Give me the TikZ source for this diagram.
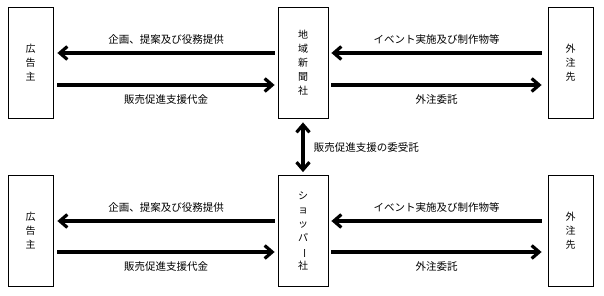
\documentclass[tikz,border=0pt]{standalone}
\usepackage{fontspec}
\usepackage{graphicx}
\setmainfont{Noto Sans CJK JP}
\usetikzlibrary{arrows.meta}

\begin{document}
\begin{tikzpicture}[x=1pt, y=-1pt,
  >={Straight Barb[length=7.5pt, width=13pt]},
  party/.style={draw, line width=0.8pt, minimum height=111pt, align=center, inner sep=0pt, font=\fontsize{10}{14}\selectfont},
  side/.style={party, minimum width=45pt},
  hub/.style={party, minimum width=50pt},
  flow/.style={->, line width=3.2pt, draw=black},
  lbl/.style={font=\fontsize{10.5}{12}\selectfont}
]
\useasboundingbox (0,0) rectangle (604,296);
% upper row
\node[side] (ad1) at (30.5,62.5) {広\\告\\主};
\node[hub] (np) at (303,62.5) {地\\域\\新\\聞\\社};
\node[side] (out1) at (570.5,62.5) {外\\注\\先};
% lower row
\node[side] (ad2) at (30.5,231) {広\\告\\主};
\node[hub] (sp) at (303,231) {シ\\ョ\\ッ\\パ\\\rotatebox[origin=c]{-90}{ー}\\社};
\node[side] (out2) at (570.5,231) {外\\注\\先};

\draw[flow] ([xshift=-3pt, yshift=9.5pt]np.west) -- node[lbl, above=4pt] {企画、提案及び役務提供} ([xshift=4pt, yshift=9.5pt]ad1.east);
\draw[flow] ([xshift=4pt, yshift=-22.5pt]ad1.east) -- node[lbl, below=5pt] {販売促進支援代金} ([xshift=-3pt, yshift=-22.5pt]np.west);
\draw[flow] ([xshift=-6pt, yshift=9.5pt]out1.west) -- node[lbl, above=4pt] {イベント実施及び制作物等} ([xshift=3pt, yshift=9.5pt]np.east);
\draw[flow] ([xshift=3pt, yshift=-22.5pt]np.east) -- node[lbl, below=5pt] {外注委託} ([xshift=-6pt, yshift=-22.5pt]out1.west);

\draw[flow] ([xshift=-3pt, yshift=10pt]sp.west) -- node[lbl, above=4pt] {企画、提案及び役務提供} ([xshift=4pt, yshift=10pt]ad2.east);
\draw[flow] ([xshift=4pt, yshift=-21pt]ad2.east) -- node[lbl, below=5pt] {販売促進支援代金} ([xshift=-3pt, yshift=-21pt]sp.west);
\draw[flow] ([xshift=-6pt, yshift=10pt]out2.west) -- node[lbl, above=4pt] {イベント実施及び制作物等} ([xshift=3pt, yshift=10pt]sp.east);
\draw[flow] ([xshift=3pt, yshift=-21pt]sp.east) -- node[lbl, below=5pt] {外注委託} ([xshift=-6pt, yshift=-21pt]out2.west);

\draw[flow, <->] ([yshift=-4pt]np.south) -- node[lbl, right=6pt] {販売促進支援の委受託} ([yshift=3pt]sp.north);
\end{tikzpicture}
\end{document}
